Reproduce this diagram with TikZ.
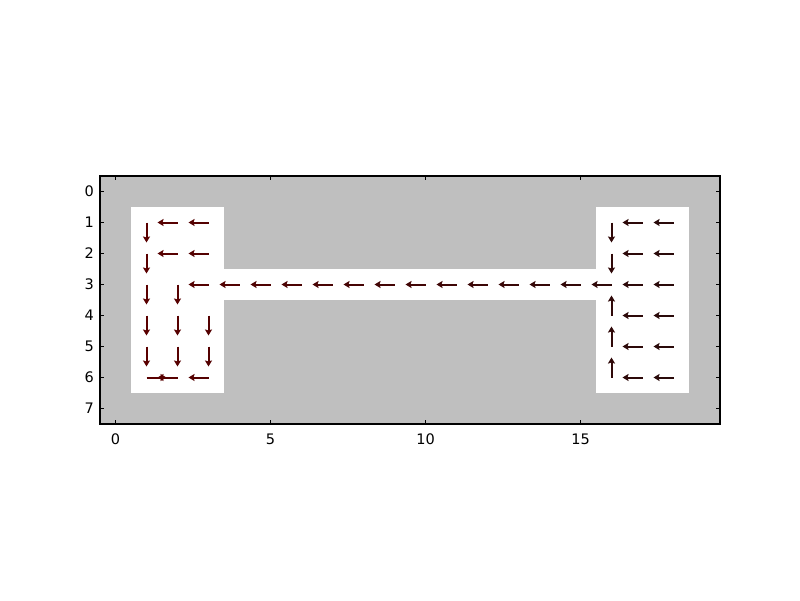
\documentclass[tikz,border=0pt]{standalone}
\usepackage{fontspec}
\setmainfont{DejaVu Sans}
\usetikzlibrary{arrows.meta}
\definecolor{wall}{HTML}{BFBFBF}
\definecolor{ared}{HTML}{5A0000}
\definecolor{adark}{HTML}{2A0A0A}
\tikzset{
  qarrow/.style={line width=2pt,-{Stealth[length=6pt,width=7pt,inset=1pt]}},
  ticklab/.style={font=\fontsize{14.5}{16}\selectfont, inner sep=0pt},
  tickline/.style={line width=1pt,black}
}
\begin{document}
\begin{tikzpicture}[x=1pt,y=-1pt]
\useasboundingbox[fill=white] (0,0) rectangle (800,600);
% map
\fill[wall] (100,176) rectangle (720,424);
\fill[white] (131,207) rectangle (224,393);
\fill[white] (596,207) rectangle (689,393);
\fill[white] (224,269) rectangle (596,300);
% quiver arrows: col/row/dx/dy
\foreach \c/\r/\dx/\dy in {
  1/1/0/1, 2/1/-1/0, 3/1/-1/0, 16/1/0/1, 17/1/-1/0, 18/1/-1/0,
  1/2/0/1, 2/2/-1/0, 3/2/-1/0, 16/2/0/1, 17/2/-1/0, 18/2/-1/0,
  1/3/0/1, 2/3/0/1, 3/3/-1/0, 4/3/-1/0, 5/3/-1/0, 6/3/-1/0, 7/3/-1/0, 8/3/-1/0,
  9/3/-1/0, 10/3/-1/0, 11/3/-1/0, 12/3/-1/0, 13/3/-1/0, 14/3/-1/0, 15/3/-1/0,
  16/3/-1/0, 17/3/-1/0, 18/3/-1/0,
  1/4/0/1, 2/4/0/1, 3/4/0/1, 16/4/0/-1, 17/4/-1/0, 18/4/-1/0,
  1/5/0/1, 2/5/0/1, 3/5/0/1, 16/5/0/-1, 17/5/-1/0, 18/5/-1/0,
  1/6/1/0, 2/6/-1/0, 3/6/-1/0, 16/6/0/-1, 17/6/-1/0, 18/6/-1/0}{
  \pgfmathsetmacro\p{100-100*(\c-1)/17}
  \draw[qarrow, color=ared!\p!adark] ({115.5+31*\c},{191.5+31*\r}) -- ++({20*\dx},{20*\dy});
}
% frame
\draw[line width=1.3pt] (100,176) rectangle (720,424);
% y ticks
\foreach \r in {0,...,7}{
  \draw[tickline] (100,{191.5+31*\r}) -- ++(4,0);
  \draw[tickline] (720,{191.5+31*\r}) -- ++(-4,0);
  \node[ticklab, anchor=east] at (94,{191.5+31*\r}) {\r};
}
% x ticks
\foreach \k in {0,5,10,15}{
  \draw[tickline] ({115.5+31*\k},424) -- ++(0,-4);
  \draw[tickline] ({115.5+31*\k},176) -- ++(0,4);
  \node[ticklab, anchor=north] at ({115.5+31*\k},434) {\k};
}
\end{tikzpicture}
\end{document}
